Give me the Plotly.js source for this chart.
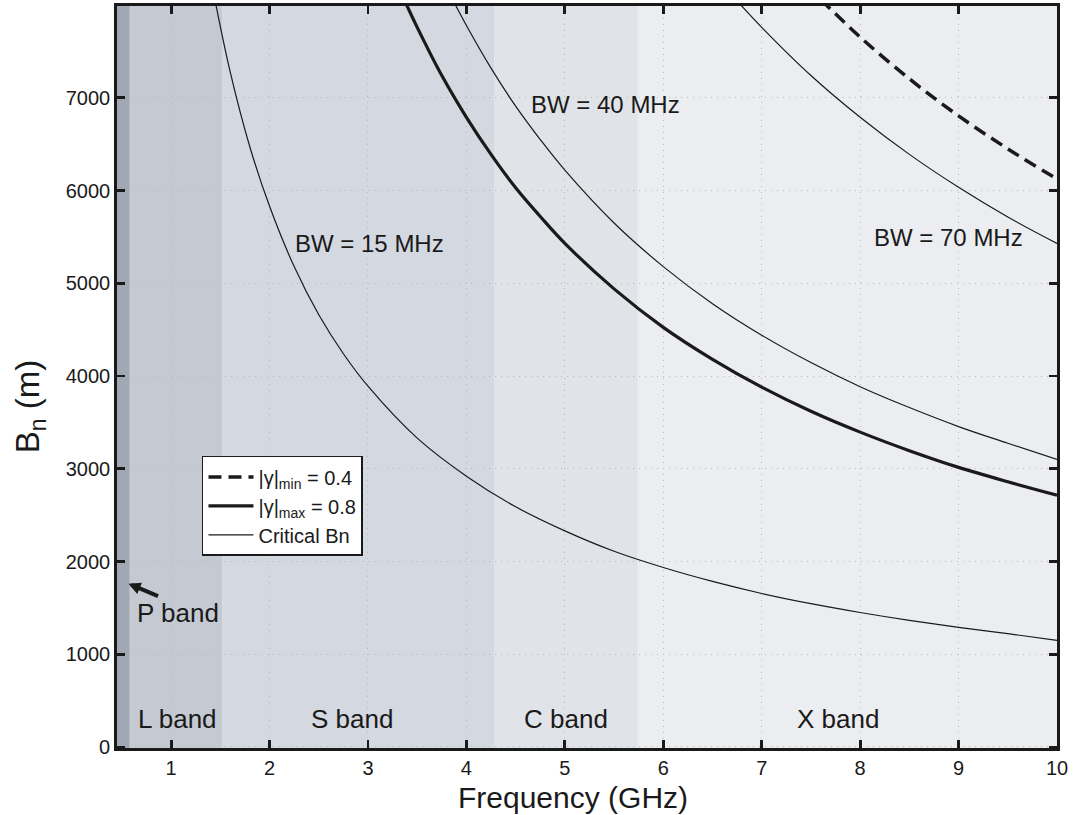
<!DOCTYPE html>
<html>
<head>
<meta charset="utf-8">
<script src="https://cdn.plot.ly/plotly-3.0.1.min.js"></script>
<style>html,body{margin:0;padding:0;background:#fff;}#chart{width:1073px;height:815px;}</style>
</head>
<body>
<div id="chart"></div>
<script>
// Critical normal baseline, BW = 15 MHz
const freq15 = [1.45, 1.6, 1.8, 2.0, 2.25, 2.5, 2.75, 3.0, 3.5, 4.0, 4.5, 5.0, 5.5, 6.0, 6.5, 7.0, 7.5, 8.0, 8.5, 9.0, 9.5, 10.0];
const bn15   = [8030, 7280, 6470, 5830, 5180, 4660, 4240, 3890, 3330, 2920, 2590, 2330, 2110, 1935, 1785, 1655, 1545, 1450, 1365, 1290, 1222, 1150];
// Critical normal baseline, BW = 40 MHz
const freq40 = [3.85, 4.0, 4.25, 4.5, 4.75, 5.0, 5.5, 6.0, 6.5, 7.0, 7.5, 8.0, 8.5, 9.0, 9.5, 10.0];
const bn40   = [8080, 7780, 7320, 6910, 6550, 6220, 5650, 5180, 4780, 4440, 4145, 3885, 3660, 3455, 3275, 3100];
// Critical normal baseline, BW = 70 MHz
const freq70 = [6.75, 7.0, 7.5, 8.0, 8.5, 9.0, 9.5, 10.0];
const bn70   = [8045, 7760, 7240, 6790, 6390, 6035, 5715, 5430];
// |gamma|max = 0.8
const freqMax = [3.38, 3.5, 3.75, 4.0, 4.25, 4.5, 4.75, 5.0, 5.5, 6.0, 6.5, 7.0, 7.5, 8.0, 8.5, 9.0, 9.5, 10.0];
const bnMax   = [8030, 7760, 7240, 6790, 6390, 6030, 5720, 5430, 4940, 4525, 4180, 3880, 3620, 3395, 3195, 3015, 2860, 2715];
// |gamma|min = 0.4
const freqMin = [7.6, 8.0, 8.5, 9.0, 9.5, 10.0];
const bnMin   = [8060, 7655, 7205, 6805, 6450, 6125];

// Frequency bands
const bandNames  = ['P band', 'L band', 'S band', 'C band', 'X band'];
const bandStart  = [0.43, 0.58, 1.52, 4.28, 5.74];
const bandEnd    = [0.58, 1.52, 4.28, 5.74, 10.0];
const bandColors = ['#a2a8b3', '#c5c9d2', '#d4d8e0', '#e0e3e8', '#ebedf1'];

// Labels
const bwLabels = ['BW = 15 MHz', 'BW = 40 MHz', 'BW = 70 MHz'];
const bwLabelX = [3.02, 5.41, 8.90];
const bwLabelY = [5430, 6930, 5490];
const bandLabelX = [1.07, 1.06, 2.84, 5.01, 7.78];
const bandLabelY = [1440, 300, 300, 300, 300];
const xTitle = 'Frequency (GHz)';
const yTitle = 'B<sub>n</sub> (m)';

const xTicks = [1, 2, 3, 4, 5, 6, 7, 8, 9, 10];
const yTicks = [0, 1000, 2000, 3000, 4000, 5000, 6000, 7000];

const FONT = 'Liberation Sans, Arial, Helvetica, sans-serif';
const INK = '#1a1a1a';

const traces = [
  {x: freqMin, y: bnMin, mode: 'lines', name: '|γ|<sub>min</sub> = 0.4',
   line: {color: INK, width: 3.5, dash: '13px,7px', shape: 'spline'}},
  {x: freqMax, y: bnMax, mode: 'lines', name: '|γ|<sub>max</sub> = 0.8',
   line: {color: INK, width: 3.2, shape: 'spline'}},
  {x: freq15, y: bn15, mode: 'lines', name: 'Critical Bn',
   line: {color: INK, width: 1.2, shape: 'spline'}},
  {x: freq40, y: bn40, mode: 'lines', name: 'Critical Bn 40', showlegend: false,
   line: {color: INK, width: 1.2, shape: 'spline'}},
  {x: freq70, y: bn70, mode: 'lines', name: 'Critical Bn 70', showlegend: false,
   line: {color: INK, width: 1.2, shape: 'spline'}}
];

const shapes = bandStart.map((s, i) => ({
  type: 'rect', xref: 'x', yref: 'paper', x0: s, x1: bandEnd[i], y0: 0, y1: 1,
  fillcolor: bandColors[i], line: {width: 0}, layer: 'below'
}));

const annotations = [];
bwLabels.forEach((t, i) => annotations.push({
  x: bwLabelX[i], y: bwLabelY[i], xref: 'x', yref: 'y', text: t, showarrow: false,
  font: {family: FONT, size: 24, color: INK}
}));
bandNames.forEach((t, i) => annotations.push({
  x: bandLabelX[i], y: bandLabelY[i], xref: 'x', yref: 'y', text: t, showarrow: false,
  font: {family: FONT, size: 26, color: INK}
}));
// arrow pointing at the P band strip
annotations.push({
  x: 0.567, y: 1760, xref: 'x', yref: 'y', text: '', showarrow: true,
  ax: 31, ay: 13, arrowhead: 2, arrowsize: 0.6, arrowwidth: 4, arrowcolor: INK
});
// axis titles
annotations.push({
  x: 0.485, y: -0.067, xref: 'paper', yref: 'paper', text: xTitle, showarrow: false,
  xanchor: 'center', yanchor: 'middle', font: {family: FONT, size: 30, color: INK}
});
annotations.push({
  x: -0.093, y: 0.46, xref: 'paper', yref: 'paper', text: yTitle, showarrow: false,
  textangle: -90, xanchor: 'center', yanchor: 'middle', font: {family: FONT, size: 33, color: INK}
});

const axisCommon = {
  showline: true, linewidth: 2.8, linecolor: INK, mirror: 'ticks',
  ticks: 'inside', ticklen: 8, tickwidth: 2.8, tickcolor: INK,
  showgrid: true, gridcolor: '#bdbaa6', griddash: '1px,5px', gridwidth: 1,
  zeroline: false, tickfont: {family: FONT, size: 20, color: INK}
};

const layout = {
  width: 1073, height: 815,
  margin: {l: 117, r: 16, t: 6, b: 67},
  paper_bgcolor: '#ffffff', plot_bgcolor: '#ebedf1',
  showlegend: true,
  legend: {x: 0.0904, y: 0.3936, xanchor: 'left', yanchor: 'top',
           bgcolor: '#ffffff', bordercolor: INK, borderwidth: 1.5,
           font: {family: FONT, size: 20, color: INK}, tracegroupgap: 0,
           itemwidth: 45},
  xaxis: Object.assign({}, axisCommon, {
    range: [0.45, 10], tickmode: 'array', tickvals: xTicks, ticktext: xTicks.map(String)
  }),
  yaxis: Object.assign({}, axisCommon, {
    range: [-11, 7990], tickmode: 'array', tickvals: yTicks, ticktext: yTicks.map(String)
  }),
  shapes: shapes,
  annotations: annotations,
  hovermode: false
};

Plotly.newPlot('chart', traces, layout, {displayModeBar: false, staticPlot: true});
</script>
</body>
</html>
